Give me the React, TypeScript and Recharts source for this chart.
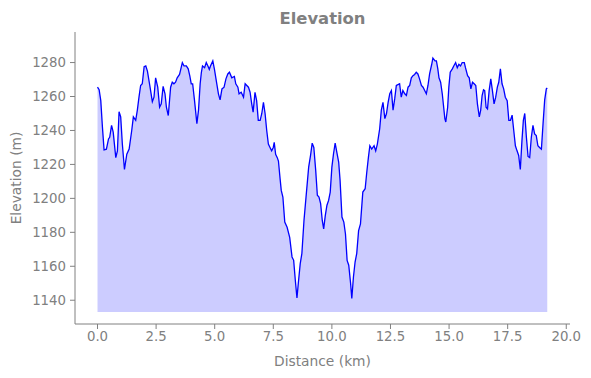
import { AreaChart, Area, XAxis, YAxis, Label } from 'recharts';

// distance along the track (km) and elevation (m)
const distanceKm = [
  0.0, 0.07, 0.14, 0.21, 0.28, 0.38, 0.47, 0.52, 0.6, 0.67, 0.78, 0.85, 0.92, 0.99, 1.06, 1.15, 1.25, 1.35,
  1.46, 1.53, 1.63, 1.7, 1.77, 1.84, 1.91, 1.99, 2.06, 2.13, 2.23, 2.34, 2.41, 2.48, 2.57, 2.65, 2.72, 2.8,
  2.88, 2.94, 3.02, 3.12, 3.19, 3.26, 3.33, 3.4, 3.5, 3.62, 3.69, 3.79, 3.87, 3.94, 4.0, 4.06, 4.14, 4.24,
  4.31, 4.38, 4.43, 4.48, 4.57, 4.64, 4.71, 4.77, 4.82, 4.92, 4.99, 5.09, 5.16, 5.23, 5.31, 5.4, 5.48, 5.56,
  5.63, 5.73, 5.84, 5.9, 5.99, 6.04, 6.13, 6.23, 6.3, 6.37, 6.44, 6.51, 6.58, 6.64, 6.72, 6.79, 6.86, 6.94,
  7.01, 7.08, 7.15, 7.22, 7.29, 7.36, 7.43, 7.5, 7.54, 7.6, 7.67, 7.72, 7.79, 7.84, 7.91, 7.99, 8.09, 8.2,
  8.3, 8.37, 8.44, 8.51, 8.58, 8.65, 8.72, 8.81, 8.91, 9.01, 9.09, 9.16, 9.23, 9.31, 9.38, 9.45, 9.52, 9.59,
  9.65, 9.72, 9.79, 9.86, 9.93, 10.0, 10.07, 10.14, 10.21, 10.29, 10.35, 10.43, 10.51, 10.58, 10.65, 10.72,
  10.8, 10.85, 10.92, 10.99, 11.06, 11.14, 11.22, 11.32, 11.42, 11.49, 11.56, 11.62, 11.7, 11.8, 11.87, 11.94,
  12.04, 12.11, 12.18, 12.26, 12.33, 12.4, 12.47, 12.54, 12.61, 12.68, 12.75, 12.82, 12.89, 12.96, 13.03,
  13.11, 13.18, 13.25, 13.32, 13.39, 13.46, 13.53, 13.6, 13.67, 13.74, 13.82, 13.89, 13.96, 14.03, 14.1,
  14.17, 14.26, 14.31, 14.4, 14.46, 14.52, 14.57, 14.64, 14.71, 14.77, 14.82, 14.86, 14.94, 14.99, 15.05,
  15.14, 15.2, 15.28, 15.35, 15.42, 15.49, 15.56, 15.65, 15.7, 15.79, 15.86, 15.93, 16.0, 16.07, 16.14,
  16.21, 16.29, 16.35, 16.41, 16.47, 16.52, 16.58, 16.64, 16.71, 16.78, 16.85, 16.92, 16.99, 17.06, 17.12,
  17.19, 17.26, 17.33, 17.4, 17.48, 17.55, 17.62, 17.69, 17.76, 17.83, 17.9, 17.97, 18.04, 18.11, 18.17,
  18.23, 18.3, 18.37, 18.44, 18.51, 18.58, 18.65, 18.72, 18.79, 18.86, 18.94, 19.01, 19.08, 19.15, 19.19,
];

const elevationM = [
  1265.5, 1264, 1257.6, 1242, 1228.6, 1229, 1235, 1236, 1243, 1239, 1224, 1228, 1251, 1248, 1232, 1217, 1226, 1229,
  1240, 1248, 1246, 1252, 1259.6, 1266.5, 1267.5, 1277.6, 1278, 1275, 1266.5, 1257, 1259.6, 1271, 1265.5, 1253.7, 1255.7, 1266,
  1261.6, 1253.7, 1248.8, 1265.5, 1268.4, 1267.5, 1268.4, 1271, 1273, 1280, 1278, 1278, 1276.3, 1272, 1267.5, 1267.5, 1257.6, 1244,
  1252, 1267.5, 1274, 1278, 1277, 1280, 1278, 1276, 1278, 1281, 1276, 1267.5, 1261.6, 1258, 1264.5, 1265.5, 1270.4, 1273.3,
  1274.3, 1271, 1271.8, 1267.5, 1265.5, 1261.6, 1262.5, 1259.6, 1267.5, 1266.5, 1265.5, 1262.5, 1255.7, 1250.8, 1262.5, 1257.6, 1246, 1246,
  1250, 1256.6, 1250, 1240, 1232, 1230, 1228, 1230, 1233, 1226, 1224, 1222, 1211.6, 1204.7, 1200.8, 1186, 1183, 1177,
  1165.5, 1163.5, 1151.8, 1141.4, 1151.8, 1161.6, 1167.5, 1187, 1202.8, 1218.4, 1225.3, 1232.5, 1230, 1216.5, 1201.8, 1200.8, 1196.9, 1187,
  1182, 1190, 1196, 1198.8, 1203.7, 1218.4, 1226.3, 1232.5, 1227.2, 1221.4, 1210.6, 1189, 1186, 1179, 1163.5, 1160.6,
  1149.8, 1141, 1153.7, 1162.5, 1167.5, 1181, 1185, 1203.7, 1205.7, 1215.5, 1224.3, 1231, 1229, 1231, 1228, 1232,
  1241, 1252, 1256.6, 1247, 1250, 1256.6, 1261.6, 1263.5, 1252, 1258.6, 1266.5, 1267, 1267.5, 1259.6, 1263.5,
  1261.6, 1260.6, 1265.5, 1266.5, 1271, 1272.3, 1273, 1274.3, 1273.3, 1270.4, 1266.5, 1265.5, 1263.5, 1261.6, 1266.5,
  1273.3, 1279, 1282.7, 1281, 1281, 1276.3, 1271, 1268.4, 1261.6, 1253.7, 1247, 1245, 1253.7, 1265.5, 1274.3,
  1276.3, 1278, 1280, 1277, 1279, 1278, 1280, 1280, 1277, 1272.3, 1271, 1264.5, 1268.4, 1267.5, 1266.5,
  1255.7, 1248, 1252, 1260.6, 1264, 1263.5, 1253.7, 1252.7, 1263.5, 1270.4, 1263.5, 1255.7, 1259.6, 1265.5, 1268.4,
  1276.3, 1267.5, 1264.5, 1259.6, 1257.6, 1246, 1246, 1249, 1240, 1231, 1228, 1225.3, 1217, 1234, 1246,
  1250, 1236, 1224.7, 1224, 1236, 1243, 1238, 1237, 1231, 1230, 1229, 1244, 1258, 1264.5, 1265,
];

const xTicks = [0, 2.5, 5, 7.5, 10, 12.5, 15, 17.5, 20];
const yTicks = [1140, 1160, 1180, 1200, 1220, 1240, 1260, 1280];

const data = distanceKm.map((d, i) => ({ distance: d, elevation: elevationM[i] }));

const GRAY = '#808080';
const FONT = '"DejaVu Sans", sans-serif';

const App = () => {
  return (
    <div style={{ position: 'absolute', left: 0, top: 0, width: 591, height: 378, background: '#fff', fontFamily: FONT }}>
      <div
        style={{
          position: 'absolute',
          left: 75,
          width: 495,
          top: 9,
          textAlign: 'center',
          fontSize: 16.4,
          fontWeight: 'bold',
          color: GRAY,
          lineHeight: '20px',
        }}
      >
        Elevation
      </div>
      <AreaChart width={591} height={378} data={data} margin={{ top: 32, right: 21, bottom: 0, left: 0 }}>
        <XAxis
          dataKey="distance"
          type="number"
          domain={[-0.96, 20.16]}
          ticks={xTicks}
          tickFormatter={(v: number) => v.toFixed(1)}
          height={54}
          stroke={GRAY}
          tick={{ fill: GRAY, fontSize: 13.3, fontFamily: FONT }}
          tickSize={5}
          tickMargin={3}
          allowDataOverflow
        >
          <Label
            content={({ viewBox }: any) => (
              <text
                x={viewBox.x + viewBox.width / 2}
                y={viewBox.y + 42}
                textAnchor="middle"
                fill={GRAY}
                fontSize={13.8}
                fontFamily={FONT}
              >
                Distance (km)
              </text>
            )}
          />
        </XAxis>
        <YAxis
          type="number"
          domain={[1126, 1298]}
          ticks={yTicks}
          width={75}
          stroke={GRAY}
          tick={{ fill: GRAY, fontSize: 13.3, fontFamily: FONT }}
          tickSize={5}
          tickMargin={4}
          allowDataOverflow
        >
          <Label
            content={({ viewBox }: any) => {
              const cx = 16;
              const cy = viewBox.y + viewBox.height / 2;
              return (
                <text
                  x={cx}
                  y={cy}
                  transform={`rotate(-90 ${cx} ${cy})`}
                  textAnchor="middle"
                  dominantBaseline="central"
                  fill={GRAY}
                  fontSize={13.8}
                  fontFamily={FONT}
                >
                  Elevation (m)
                </text>
              );
            }}
          />
        </YAxis>
        <Area
          type="linear"
          dataKey="elevation"
          baseValue={1133}
          stroke="#0000ff"
          strokeWidth={1.3}
          fill="#0000ff"
          fillOpacity={0.2}
          isAnimationActive={false}
        />
      </AreaChart>
    </div>
  );
};

export default App;
